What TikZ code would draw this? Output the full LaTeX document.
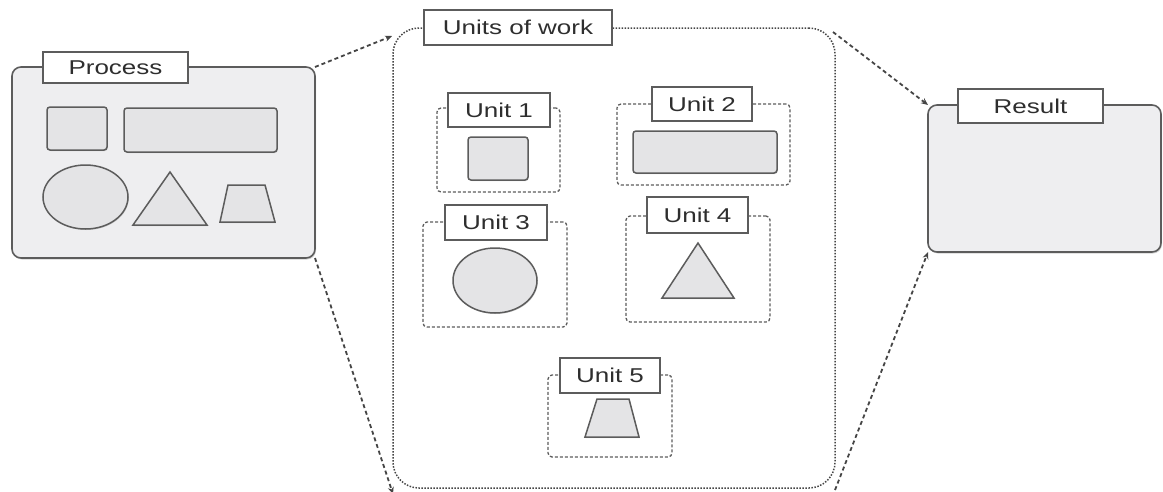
\documentclass[tikz,border=0pt]{standalone}
\usepackage{fontspec}
\setmainfont[FakeStretch=1.3]{Liberation Sans}
\usetikzlibrary{arrows.meta,shadows}
\definecolor{edge}{HTML}{5C5C5C}
\definecolor{shapefill}{HTML}{E4E4E6}
\definecolor{boxfill}{HTML}{EEEEF0}
\definecolor{arrowc}{HTML}{454545}
\tikzset{
  bigbox/.style={draw=edge, line width=1.6pt, fill=boxfill, rounded corners=9pt, inner sep=0pt, outer sep=0pt,
    drop shadow={shadow xshift=1pt, shadow yshift=-1.5pt, opacity=0.35}},
  workbox/.style={draw=arrowc, line width=1.5pt, dash pattern=on 1.5pt off 1.5pt, rounded corners=26pt, inner sep=0pt, outer sep=0pt},
  unitbox/.style={draw=edge, line width=1.3pt, dash pattern=on 3pt off 2pt, rounded corners=4pt, inner sep=0pt, outer sep=0pt},
  lab/.style={draw=edge, line width=1.5pt, fill=white, inner sep=0pt, outer sep=0pt, font=\fontsize{20}{23}\selectfont, text=black!82},
  shp/.style={draw=edge, line width=1.5pt, fill=shapefill, inner sep=0pt, outer sep=0pt,
    drop shadow={shadow xshift=0.8pt, shadow yshift=-1pt, opacity=0.35}},
  flow/.style={draw=arrowc, line width=1.8pt, dash pattern=on 4pt off 3pt, -{Stealth[length=7pt,width=6pt]}},
}
\begin{document}
\begin{tikzpicture}[x=1pt,y=-1pt]
\useasboundingbox (0,0) rectangle (1163,491);

% Process
\node[bigbox, minimum width=303pt, minimum height=191pt] (proc) at (163.5,162.5) {};
\node[lab, minimum width=145pt, minimum height=31pt] (proclab) at (115.5,67.5) {Process};
\node[shp, rounded corners=3pt, minimum width=60pt, minimum height=43pt] (ps1) at (77,128.5) {};
\node[shp, rounded corners=3pt, minimum width=153pt, minimum height=44pt] (ps2) at (200.5,130) {};
\draw[shp] (85.5,197) ellipse [x radius=42.5pt, y radius=32pt];
\draw[shp] (133,225) -- (207,225) -- (170,172) -- cycle;
\draw[shp] (220,222) -- (275,222) -- (265,185) -- (228,185) -- cycle;

% Units of work
\node[workbox, minimum width=442pt, minimum height=460pt] (units) at (614,258) {};
\node[lab, minimum width=188pt, minimum height=35pt] (unitslab) at (518,27.5) {Units of work};

% Unit 1
\node[unitbox, minimum width=123pt, minimum height=84pt] (u1) at (498.5,150) {};
\node[lab, minimum width=102pt, minimum height=34pt] (u1lab) at (499,110) {Unit 1};
\node[shp, rounded corners=3pt, minimum width=60pt, minimum height=43pt] (s1) at (498,158.5) {};

% Unit 2
\node[unitbox, minimum width=173pt, minimum height=81pt] (u2) at (703.5,144.5) {};
\node[lab, minimum width=100pt, minimum height=34pt] (u2lab) at (702,104) {Unit 2};
\node[shp, rounded corners=3pt, minimum width=144pt, minimum height=42pt] (s2) at (705,152) {};

% Unit 3
\node[unitbox, minimum width=144pt, minimum height=105pt] (u3) at (495,274.5) {};
\node[lab, minimum width=102pt, minimum height=35pt] (u3lab) at (496,222.5) {Unit 3};
\draw[shp] (495,280.5) ellipse [x radius=42pt, y radius=32.5pt];

% Unit 4
\node[unitbox, minimum width=144pt, minimum height=106pt] (u4) at (698,269) {};
\node[lab, minimum width=101pt, minimum height=36pt] (u4lab) at (697.5,215) {Unit 4};
\draw[shp] (662,298) -- (734,298) -- (698,243) -- cycle;

% Unit 5
\node[unitbox, minimum width=124pt, minimum height=82pt] (u5) at (610,416) {};
\node[lab, minimum width=100pt, minimum height=35pt] (u5lab) at (610,375.5) {Unit 5};
\draw[shp] (585,437) -- (639,437) -- (629,399) -- (597,399) -- cycle;

% Result
\node[bigbox, minimum width=233pt, minimum height=147pt] (res) at (1044.5,178.5) {};
\node[lab, minimum width=145pt, minimum height=34pt] (reslab) at (1030.5,106) {Result};

% Connectors
\draw[flow] (proc.north east) -- ([xshift=-1pt,yshift=-8pt]units.north west);
\draw[flow] (proc.south east) -- ([xshift=0pt,yshift=-6pt]units.south west);
\draw[flow] ([xshift=-2pt,yshift=-4pt]units.north east) -- (res.north west);
\draw[flow] ([yshift=-2pt]units.south east) -- (res.south west);
\end{tikzpicture}
\end{document}
